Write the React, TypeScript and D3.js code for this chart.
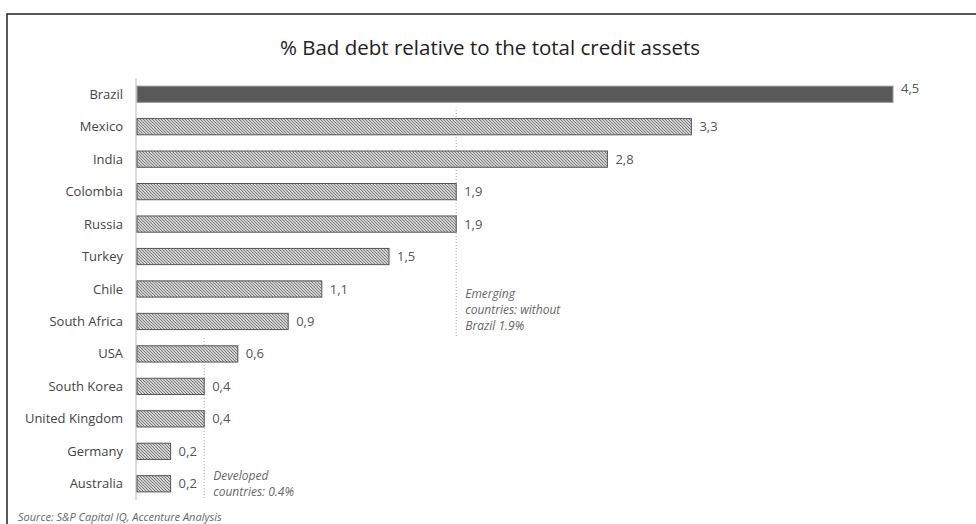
import React from "react";
import * as d3 from "d3";

const countries = ["Brazil","Mexico","India","Colombia","Russia","Turkey","Chile","South Africa","USA","South Korea","United Kingdom","Germany","Australia"];
const values = [4.5,3.3,2.8,1.9,1.9,1.5,1.1,0.9,0.6,0.4,0.4,0.2,0.2];
const highlighted = ["Brazil"];
const emergingAvg = 1.9;
const developedAvg = 0.4;
const emergingNote = ["Emerging", "countries: without", "Brazil 1.9%"];
const developedNote = ["Developed", "countries: 0.4%"];
const title = "% Bad debt relative to the total credit assets";
const source = "Source: S&P Capital IQ, Accenture Analysis";

const W = 976, H = 524;
const x0 = 137;
const font = "'Open Sans', 'Noto Sans', sans-serif";

export default function App() {
  const x = d3.scaleLinear().domain([0, 4.5]).range([x0, 893]);
  const y = d3.scaleBand().domain(countries).range([78, 500]).paddingInner(0.5).paddingOuter(0.25);
  const bh = y.bandwidth();
  const fmt = (v: number) => d3.format(".1f")(v).replace(".", ",");
  const yc = (c: string) => (y(c) as number) + bh / 2;
  return (
    <svg width={W} height={H} style={{ position: "absolute", left: 0, top: 0, background: "#fff" }}>
      <defs>
        <pattern id="hatch" width="3" height="3" patternUnits="userSpaceOnUse">
          <rect width="3" height="3" fill="#d2d2d2" />
          <path d="M-1,-1 L4,4 M-1,2 L1,4 M2,-1 L4,1" stroke="#7a7a7a" strokeWidth="1" />
        </pattern>
      </defs>
      <rect x={7} y={14} width={1000} height={600} fill="none" stroke="#222" strokeWidth={1.5} />
      <text x={490} y={55} textAnchor="middle" fontFamily={font} fontSize={20.5} fill="#222">{title}</text>
      <line x1={x0 - 1} x2={x0 - 1} y1={78} y2={500} stroke="#bbb" strokeWidth={1} />
      <line x1={x(emergingAvg)} x2={x(emergingAvg)} y1={110} y2={336} stroke="#aaa" strokeDasharray="1,2" />
      <line x1={x(developedAvg)} x2={x(developedAvg)} y1={338} y2={500} stroke="#aaa" strokeDasharray="1,2" />
      {countries.map((c, i) => {
        const hi = highlighted.includes(c);
        return (
          <g key={c}>
            <text x={123} y={yc(c)} dy="0.35em" textAnchor="end" fontFamily={font} fontSize={13} fill="#444">{c}</text>
            <rect x={x0} y={y(c)} width={x(values[i]) - x0} height={bh}
              fill={hi ? "#595959" : "url(#hatch)"} stroke={hi ? "#999" : "#555"} strokeWidth={1} />
            <text x={x(values[i]) + 8} y={hi ? yc(c) - 6 : yc(c)} dy="0.35em" fontFamily={font} fontSize={13} fill="#555">{fmt(values[i])}</text>
          </g>
        );
      })}
      {emergingNote.map((t, i) => (
        <text key={t} x={x(emergingAvg) + 9} y={298 + i * 16} fontFamily={font} fontSize={12} fontStyle="italic" fill="#666">{t}</text>
      ))}
      {developedNote.map((t, i) => (
        <text key={t} x={x(developedAvg) + 9} y={480 + i * 16} fontFamily={font} fontSize={12} fontStyle="italic" fill="#666">{t}</text>
      ))}
      <text x={18} y={521} fontFamily={font} fontSize={11} fontStyle="italic" fill="#666">{source}</text>
    </svg>
  );
}
